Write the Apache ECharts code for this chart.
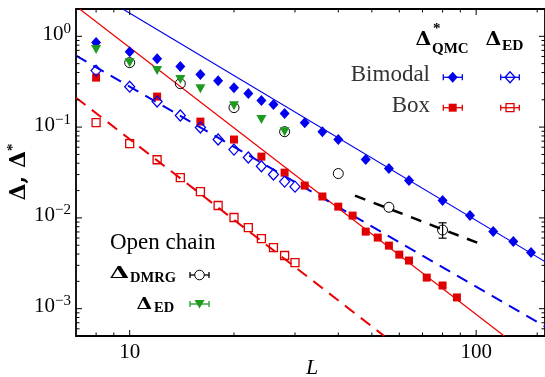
<!DOCTYPE html>
<html><head><meta charset="utf-8">
<script src="https://cdn.jsdelivr.net/npm/echarts@6/dist/echarts.min.js"></script>
<style>html,body{margin:0;padding:0;background:#fff}#c{width:545px;height:377px}</style>
</head><body><div id="c"></div>
<script>
// ---- data ----
const bimodalQmcL = [8,10,12,14,16,18,20,22,24,26,28,32,36,40,48,56,64,80,96,112,128,144];
const bimodalQmc  = [0.853,0.678,0.568,0.464,0.379,0.325,0.272,0.234,0.196,0.177,0.141,0.112,0.089,0.073,0.0439,0.0349,0.0258,0.0155,0.0106,0.00706,0.00548,0.00415];
const boxQmcL = [8,12,16,20,24,28,32,36,40,44,48,52,56,60,64,72,80,88];
const boxQmc  = [0.351,0.217,0.115,0.073,0.0473,0.0315,0.0227,0.0172,0.0133,0.0106,0.00706,0.00607,0.00495,0.00394,0.00339,0.0022,0.0018,0.00133];
const bimodalEdL = [8,10,12,14,16,18,20,22,24,26,28,30];
const bimodalEd  = [0.419,0.279,0.191,0.134,0.0988,0.073,0.0565,0.0462,0.037,0.030,0.0251,0.0221];
const boxEdL = [8,10,12,14,16,18,20,22,24,26,28,30];
const boxEd  = [0.112,0.0658,0.0437,0.0278,0.0195,0.0137,0.0101,0.00783,0.00592,0.00471,0.00385,0.00322];
const dmrgL = [10,14,20,28,40,56,80];
const dmrg  = [0.513,0.301,0.164,0.089,0.0308,0.0131,0.00735];
const dmrgErrL = [80];
const dmrgErrLow = [0.00598];
const dmrgErrHigh = [0.00883];
const edOpenL = [8,10,12,14,16,20,24,28];
const edOpen  = [0.714,0.513,0.419,0.334,0.265,0.172,0.121,0.089];
// fit lines (end points)
const bimodalFitL = [9.55,158];   const bimodalFit = [2,0.0033];
const boxFitL = [7.17,120.5];     const boxFit = [2,0.0005];
const bimodalEdFitL = [7,158];    const bimodalEdFit = [0.614,0.000638];
const boxEdFitL = [7,54.3];       const boxEdFit = [0.211,0.0005];
const dmrgFitL = [44.7,100.7];    const dmrgFit = [0.0176,0.00533];
// ticks
const xMajorTicks = [10,100];
const xMinorTicks = [8,9,20,30,40,50,60,70,80,90,150];
const yMajorTicks = [0.001,0.01,0.1,1];
const yMinorTicks = [0.0006,0.0007,0.0008,0.0009,0.002,0.003,0.004,0.005,0.006,0.007,0.008,0.009,
                     0.02,0.03,0.04,0.05,0.06,0.07,0.08,0.09,0.2,0.3,0.4,0.5,0.6,0.7,0.8,0.9];

const X_MIN = 7, X_MAX = 158, Y_MIN = 5e-4, Y_MAX = 2;
const BLUE = '#0000ee', RED = '#e00000', GREEN = '#1f9a1f', BLACK = '#000';
const SERIF = '"Liberation Serif", "DejaVu Serif", serif';
const DSERIF = '"DejaVu Serif", serif';

const zip = (a, b) => a.map((v, i) => [v, b[i]]);
const isPow10 = v => Math.abs(Math.log10(v) - Math.round(Math.log10(v))) < 1e-6;

const chart = echarts.init(document.getElementById('c'), null, {renderer: 'canvas'});

function lineSeries(L, V, color, width, type) {
  return {type: 'line', data: zip(L, V), showSymbol: false, symbol: 'none', silent: true,
    lineStyle: {color: color, width: width, type: type, opacity: 1}, z: 2, animation: false};
}
function scatter(L, V, symbol, size, style, rot) {
  style.opacity = 1;
  return {type: 'scatter', data: zip(L, V), symbol: symbol, symbolSize: size, symbolRotate: rot || 0,
    itemStyle: style, z: 5, silent: true, animation: false};
}
const OPEN = 'rgba(0,0,0,0)';

const tickStyle = {stroke: '#000', lineWidth: 1};
const xTickSeries = {
  type: 'custom', silent: true, animation: false, z: 10, clip: false,
  data: xMajorTicks.map(v => [v, Y_MIN, 1]).concat(xMinorTicks.map(v => [v, Y_MIN, 0])),
  renderItem: (p, api) => {
    const v = api.value(0), len = api.value(2) ? 6 : 3.5;
    const b = api.coord([v, Y_MIN]), t = api.coord([v, Y_MAX]);
    return {type: 'group', children: [
      {type: 'line', shape: {x1: b[0], y1: b[1], x2: b[0], y2: b[1] - len}, style: tickStyle},
      {type: 'line', shape: {x1: t[0], y1: t[1], x2: t[0], y2: t[1] + len}, style: tickStyle}
    ]};
  }
};
const yTickSeries = {
  type: 'custom', silent: true, animation: false, z: 10, clip: false,
  data: yMajorTicks.map(v => [X_MIN, v, 1]).concat(yMinorTicks.map(v => [X_MIN, v, 0])),
  renderItem: (p, api) => {
    const v = api.value(1), len = api.value(2) ? 6 : 3.5;
    const l = api.coord([X_MIN, v]), r = api.coord([X_MAX, v]);
    return {type: 'group', children: [
      {type: 'line', shape: {x1: l[0], y1: l[1], x2: l[0] + len, y2: l[1]}, style: tickStyle},
      {type: 'line', shape: {x1: r[0], y1: r[1], x2: r[0] - len, y2: r[1]}, style: tickStyle}
    ]};
  }
};
const errSeries = {
  type: 'custom', silent: true, animation: false, z: 4,
  data: dmrgErrL.map((v, i) => [v, dmrgErrLow[i], dmrgErrHigh[i]]),
  renderItem: (p, api) => {
    const x = api.value(0);
    const lo = api.coord([x, api.value(1)]), hi = api.coord([x, api.value(2)]);
    const st = {stroke: '#000', lineWidth: 1.2};
    return {type: 'group', children: [
      {type: 'line', shape: {x1: lo[0], y1: lo[1], x2: hi[0], y2: hi[1]}, style: st},
      {type: 'line', shape: {x1: lo[0] - 4, y1: lo[1], x2: lo[0] + 4, y2: lo[1]}, style: st},
      {type: 'line', shape: {x1: hi[0] - 4, y1: hi[1], x2: hi[0] + 4, y2: hi[1]}, style: st}
    ]};
  }
};

// ---- legend / labels as graphic elements ----
const G = [];
function text(x, y, s, size, opts) {
  opts = opts || {};
  G.push({type: 'text', x: x, y: y, silent: true, z: 100, rotation: opts.rot || 0, scaleX: opts.sx || 1,
    style: {text: s, fontSize: size, fontFamily: opts.family || SERIF, fontWeight: opts.weight || 'normal',
      fontStyle: opts.style || 'normal', fill: opts.color || '#000', align: opts.align || 'left',
      verticalAlign: 'middle', rich: opts.rich}});
}
function bar(cx, cy, x1, x2, color) {
  const st = {stroke: color, lineWidth: 1.3};
  G.push({type: 'line', silent: true, z: 100, shape: {x1: x1, y1: cy, x2: x2, y2: cy}, style: st});
  G.push({type: 'line', silent: true, z: 100, shape: {x1: x1, y1: cy - 3, x2: x1, y2: cy + 3}, style: st});
  G.push({type: 'line', silent: true, z: 100, shape: {x1: x2, y1: cy - 3, x2: x2, y2: cy + 3}, style: st});
}
function diamond(cx, cy, filled, color) {
  G.push({type: 'polygon', silent: true, z: 101, shape: {points: [[cx, cy - 5.5], [cx + 5, cy], [cx, cy + 5.5], [cx - 5, cy]]},
    style: filled ? {fill: color} : {fill: 'none', stroke: color, lineWidth: 1.3}});
}
function square(cx, cy, filled, color) {
  G.push({type: 'rect', silent: true, z: 101, shape: {x: cx - 4, y: cy - 4, width: 8, height: 8},
    style: filled ? {fill: color} : {fill: 'none', stroke: color, lineWidth: 1.3}});
}
// top-right legend
text(415.5, 40, 'Δ', 18.5, {family: DSERIF, weight: 'bold', sx: 1.1});
text(433, 29, '*', 15, {weight: 'bold'});
text(432, 49.5, 'QMC', 15, {weight: 'bold'});
text(485.5, 40, 'Δ', 18.5, {family: DSERIF, weight: 'bold', sx: 1.1});
text(502, 46, 'ED', 15.5, {weight: 'bold'});
text(430, 75, 'Bimodal', 23, {align: 'right', color: '#333'});
text(430, 106, 'Box', 23, {align: 'right', color: '#333'});
bar(452.7, 77.3, 443.3, 462.3, BLUE); diamond(452.7, 77.3, true, BLUE);
bar(510, 77.3, 500.7, 519.3, BLUE); diamond(510, 77.3, false, BLUE);
bar(452.7, 107.7, 443.3, 462.3, RED); square(452.7, 107.7, true, RED);
bar(510, 107.7, 500.7, 519.3, RED); square(510, 107.7, false, RED);
// bottom-left legend
text(110, 242.5, 'Open chain', 23);
text(109.5, 273.5, 'Δ', 17.5, {family: DSERIF, weight: 'bold', sx: 1.45});
text(130, 278, 'DMRG', 14.5, {weight: 'bold'});
text(136.5, 304.5, 'Δ', 17.5, {family: DSERIF, weight: 'bold', sx: 1.15});
text(154, 308.5, 'ED', 14.5, {weight: 'bold'});
bar(199.5, 275, 190, 209, '#000');
G.push({type: 'circle', silent: true, z: 101, shape: {cx: 199.5, cy: 275, r: 4.8}, style: {fill: '#fff', stroke: '#000', lineWidth: 1}});
bar(199.5, 304, 190, 209, GREEN);
G.push({type: 'polygon', silent: true, z: 101, shape: {points: [[194.5, 300], [204.5, 300], [199.5, 308.5]]}, style: {fill: GREEN}});
// axis titles
text(19, 172, '{a|Δ, Δ}{s|*}', 22, {rot: Math.PI / 2, align: 'center',
  rich: {a: {fontSize: 22, fontFamily: DSERIF, fontWeight: 'bold', lineHeight: 26, fill: '#000'},
         s: {fontSize: 15, fontFamily: SERIF, fontWeight: 'bold', verticalAlign: 'top', fill: '#000'}}});
text(312, 368, 'L', 22, {style: 'italic', align: 'center'});

const option = {
  animation: false,
  backgroundColor: '#fff',
  grid: {left: 76, right: 0, top: 9, bottom: 41, show: true, borderColor: '#000', borderWidth: 1.8,
         containLabel: false, outerBoundsMode: 'none'},
  xAxis: {type: 'log', logBase: 10, min: X_MIN, max: X_MAX,
    axisLine: {show: false}, axisTick: {show: false}, splitLine: {show: false}, minorTick: {show: false},
    axisLabel: {margin: 6, color: '#000', fontFamily: SERIF, fontSize: 21,
      formatter: v => isPow10(v) ? String(Math.round(v)) : ''}},
  yAxis: {type: 'log', logBase: 10, min: Y_MIN, max: Y_MAX,
    axisLine: {show: false}, axisTick: {show: false}, splitLine: {show: false}, minorTick: {show: false},
    axisLabel: {margin: 5, color: '#000', padding: [0, 0, 4, 0],
      formatter: v => {
        if (!isPow10(v)) return '';
        const e = Math.round(Math.log10(v));
        return '{b|10}{e|' + (e < 0 ? '\u2212' + (-e) : String(e)) + '}';
      },
      rich: {b: {fontFamily: SERIF, fontSize: 21, lineHeight: 26, color: '#000'},
             e: {fontFamily: SERIF, fontSize: 15, verticalAlign: 'top', color: '#000'}}}},
  series: [
    lineSeries(bimodalFitL, bimodalFit, BLUE, 1.2, 'solid'),
    lineSeries(boxFitL, boxFit, '#ee0000', 1.2, 'solid'),
    lineSeries(bimodalEdFitL, bimodalEdFit, BLUE, 2, [12, 8]),
    lineSeries(boxEdFitL, boxEdFit, '#ee0000', 2, [12, 8]),
    lineSeries(dmrgFitL, dmrgFit, BLACK, 2.5, [11, 9]),
    scatter(bimodalQmcL, bimodalQmc, 'diamond', [10, 11], {color: BLUE}),
    scatter(boxQmcL, boxQmc, 'rect', 8, {color: RED}),
    scatter(bimodalEdL, bimodalEd, 'diamond', [10, 11], {color: OPEN, borderColor: BLUE, borderWidth: 1.3}),
    scatter(boxEdL, boxEd, 'rect', 8, {color: OPEN, borderColor: RED, borderWidth: 1.3}),
    errSeries,
    scatter(dmrgL, dmrg, 'circle', 10, {color: OPEN, borderColor: BLACK, borderWidth: 1}),
    scatter(edOpenL, edOpen, 'triangle', [10, 9], {color: GREEN}, 180),
    xTickSeries,
    yTickSeries
  ],
  graphic: G
};
chart.setOption(option);
</script>
</body></html>
